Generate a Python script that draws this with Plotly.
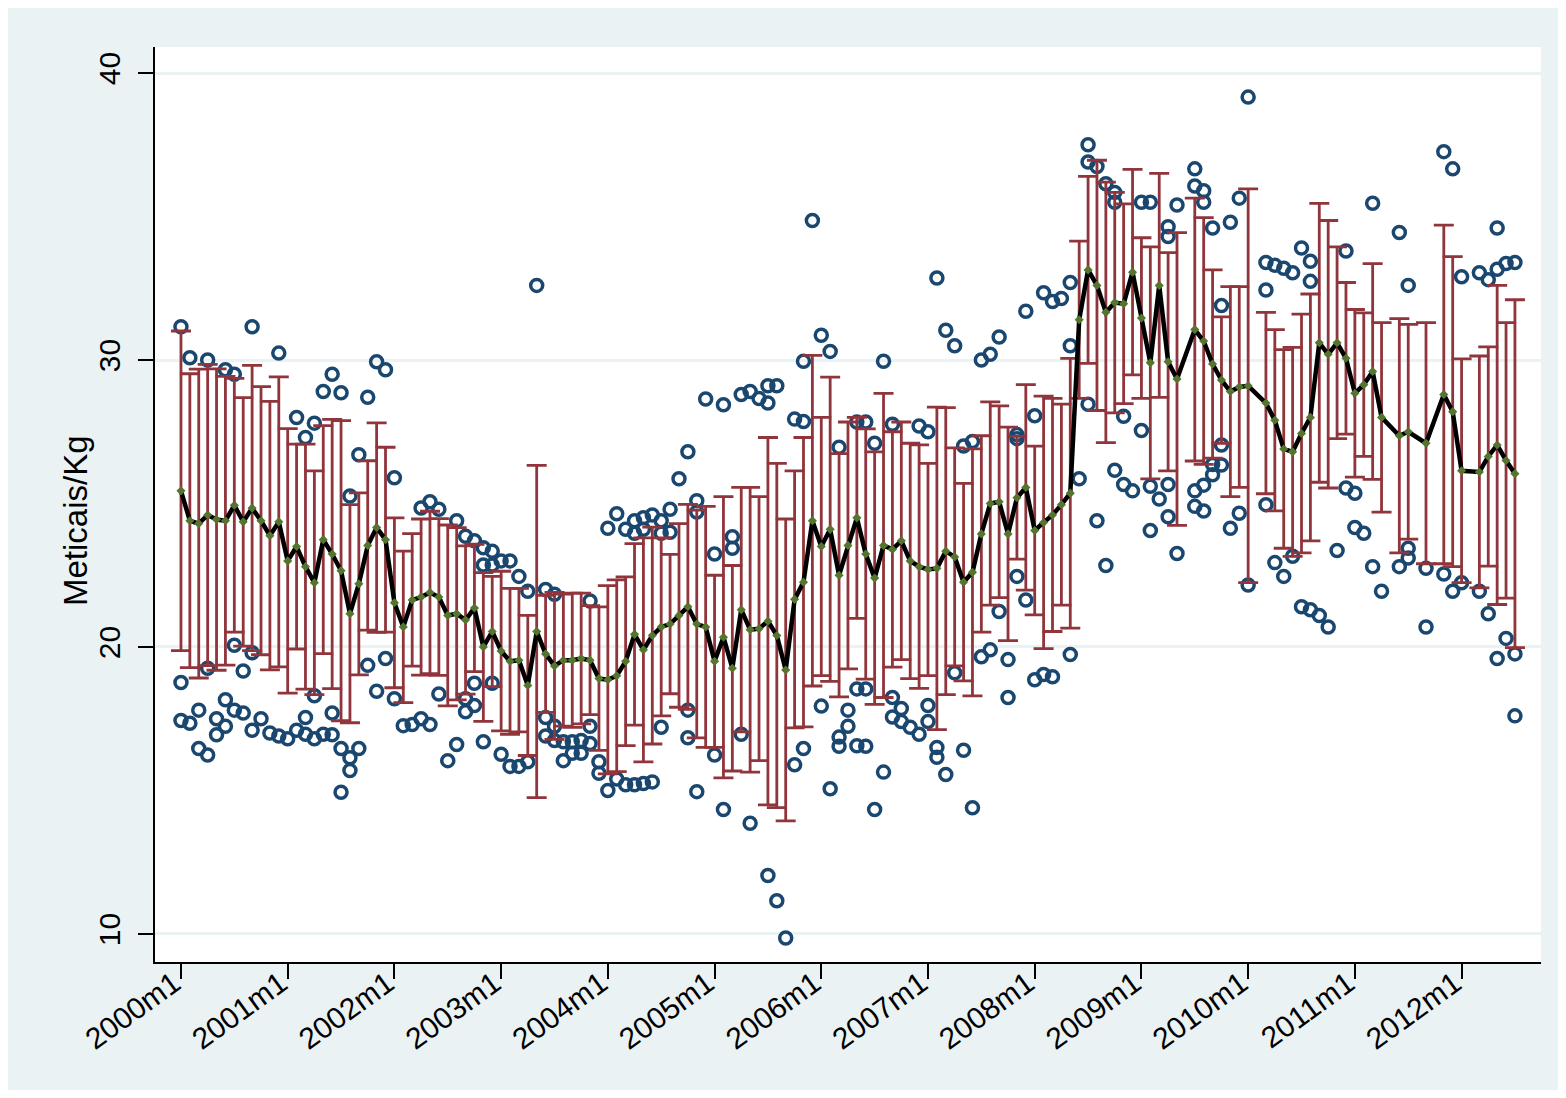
import plotly.graph_objects as go

# ---------------- data ----------------
start_year = 2000
n_months = 151  # 2000m1 .. 2012m7

mean_price = [
    25.44, 24.4, 24.3, 24.6, 24.44, 24.4, 24.94, 24.36, 24.84, 24.4, 23.88, 24.36,
    23.0, 23.5, 22.8, 22.24, 23.74, 23.24, 22.66, 21.16, 22.2, 23.54, 24.16, 23.74,
    21.54, 20.7, 21.64, 21.74, 21.9, 21.74, 21.1, 21.16, 20.94, 21.36, 20.0, 20.54,
    19.86, 19.5, 19.54, 18.66, 20.54, 19.76, 19.34, 19.54, 19.54, 19.6, 19.54, 18.9,
    18.86, 19.0, 19.5, 20.44, 19.9, 20.4, 20.7, 20.8, 21.1, 21.4, 20.8, 20.7,
    19.5, 20.34, 19.26, 21.3, 20.6, 20.64, 20.9, 20.4, 19.2, 21.66, 22.26, 24.4,
    23.5, 24.1, 22.5, 23.54, 24.5, 23.24, 22.4, 23.54, 23.4, 23.7, 23.0, 22.8,
    22.7, 22.74, 23.34, 23.14, 22.26, 22.6, 23.94, 25.0, 25.06, 23.94, 25.2, 25.56,
    24.06, 24.34, 24.6, 24.96, 25.36, 31.4, 33.14, 32.6, 31.66, 32.0, 31.96, 33.06,
    31.46, 29.9, 32.6, 29.94, 29.34, None, 31.06, 30.66, 29.86, 29.3, 28.9, 29.06,
    29.1, None, 28.5, 27.9, 26.9, 26.8, 27.44, 28.0, 30.6, 30.2, 30.6, 30.06,
    28.84, 29.14, 29.6, 28.0, None, 27.36, 27.5, None, 27.1, None, 28.8, 28.2,
    26.14, None, 26.1, 26.64, 27.04, 26.5, 26.04,
]

sd_price = [
    5.57, 5.12, 5.38, 5.25, 5.25, 5.03, 4.42, 4.33, 4.97, 4.67, 4.68, 5.05,
    4.61, 3.57, 4.27, 3.9, 3.97, 4.69, 5.23, 3.8, 3.17, 2.95, 3.65, 3.22,
    2.96, 2.64, 2.31, 2.72, 2.83, 2.73, 3.15, 3.0, 2.58, 2.22, 2.59, 1.92,
    2.78, 2.54, 2.5, 2.44, 5.79, 2.04, 2.56, 2.3, 2.34, 2.28, 1.9, 2.5,
    3.28, 3.34, 2.94, 3.16, 3.9, 3.78, 3.1, 2.43, 3.2, 3.57, 3.97, 4.2,
    3.0, 4.9, 3.58, 4.26, 4.96, 4.6, 6.4, 6.0, 5.26, 4.48, 5.04, 5.76,
    4.5, 5.3, 4.24, 4.3, 3.5, 4.36, 4.4, 5.3, 4.1, 4.14, 4.1, 4.24,
    3.7, 5.62, 5.0, 3.8, 3.44, 4.3, 3.42, 3.54, 3.34, 3.72, 2.14, 3.58,
    2.94, 4.4, 4.06, 3.5, 4.7, 2.74, 3.26, 4.36, 4.54, 3.84, 3.48, 3.58,
    2.8, 4.04, 3.9, 3.8, 5.1, None, 4.58, 4.3, 3.28, 2.2, 3.66, 3.5,
    6.86, None, 3.16, 3.16, 3.46, 3.64, 4.16, 4.3, 4.86, 4.66, 3.34, 2.64,
    2.92, 2.5, 3.76, 3.3, None, 4.08, 3.74, None, 4.2, None, 5.9, 5.4,
    3.9, None, 4.04, 3.82, 5.56, 4.8, 6.06,
]

# individual market observations: month index -> prices
market_obs = {
    0: [31.16, 18.76, 17.44], 1: [30.08, 17.34], 2: [17.8, 16.46], 3: [30.0, 16.24, 19.26],
    4: [17.5, 16.94], 5: [29.66, 18.16, 17.24], 6: [29.5, 20.06, 17.8], 7: [17.7, 19.16],
    8: [31.16, 19.8, 17.1], 9: [17.5], 10: [17.0], 11: [30.24, 16.9], 12: [16.8],
    13: [28.0, 17.1], 14: [27.3, 17.54, 16.96], 15: [27.8, 18.3, 16.8], 16: [28.9, 16.96],
    17: [29.5, 17.7, 16.94], 18: [28.86, 16.46, 14.94], 19: [25.26, 16.14, 15.7],
    20: [26.7, 16.46], 21: [28.7, 19.36], 22: [29.94, 18.46], 23: [29.66, 19.6],
    24: [25.9, 18.2], 25: [17.26], 26: [17.3], 27: [24.84, 17.5], 28: [25.06, 17.3],
    29: [24.8, 18.36], 30: [16.04], 31: [24.4, 16.6], 32: [23.86, 18.2, 17.74],
    33: [23.7, 18.74, 17.96], 34: [23.46, 22.86, 16.7], 35: [23.34, 22.86, 18.74],
    36: [23.0, 16.26], 37: [23.0, 15.84], 38: [22.46, 15.84], 39: [21.94, 16.0],
    40: [32.6], 41: [22.0, 17.54, 16.9], 42: [21.84, 17.24, 16.74], 43: [16.7, 16.04],
    44: [16.7, 16.3], 45: [16.74, 16.3], 46: [21.6, 17.24, 16.64], 47: [16.0, 15.6],
    48: [24.14, 15.0], 49: [24.64, 15.4], 50: [24.1, 15.2], 51: [24.4, 23.96, 15.2],
    52: [24.5, 24.1, 15.24], 53: [24.6, 15.3], 54: [24.4, 23.96, 17.2], 55: [24.8, 24.0],
    56: [25.86], 57: [26.8, 17.8, 16.84], 58: [25.1, 24.7, 14.96], 59: [28.64],
    60: [23.24, 16.24], 61: [28.44, 14.34], 62: [23.84, 23.44], 63: [28.8, 16.96],
    64: [28.9, 13.86], 65: [28.66], 66: [29.1, 28.5, 12.04], 67: [29.1, 11.16],
    68: [9.86], 69: [27.94, 15.9], 70: [29.96, 27.86, 16.46], 71: [34.86],
    72: [30.86, 17.94], 73: [30.3, 15.06], 74: [26.96, 16.86, 16.54], 75: [17.8, 17.24],
    76: [27.84, 18.54, 16.56], 77: [27.84, 18.54, 16.54], 78: [27.1, 14.34],
    79: [29.96, 15.64], 80: [27.76, 18.24, 17.56], 81: [17.86, 17.4], 82: [17.2],
    83: [27.7, 16.96], 84: [27.5, 17.96, 17.4], 85: [32.86, 16.5, 16.16],
    86: [31.04, 15.56], 87: [30.5, 19.1], 88: [27.0, 16.4], 89: [27.16, 14.4],
    90: [30.0, 19.66], 91: [30.2, 19.9], 92: [30.8, 21.24], 93: [19.56, 18.24],
    94: [27.4, 27.26, 22.46], 95: [31.7, 21.64], 96: [28.06, 18.86], 97: [32.34, 19.04],
    98: [32.04, 18.96], 99: [32.14], 100: [32.7, 30.5, 19.74], 101: [25.86],
    102: [37.5, 36.9, 28.46], 103: [36.74, 24.4], 104: [36.14, 22.84],
    105: [35.84, 35.5, 26.16], 106: [28.04, 25.66], 107: [25.44], 108: [35.5, 27.54],
    109: [35.5, 25.6, 24.06], 110: [25.16], 111: [34.64, 34.3, 25.66, 24.54],
    112: [35.4, 23.26], 114: [36.66, 36.06, 25.44, 24.9], 115: [35.9, 35.5, 25.64, 24.74],
    116: [34.6, 26.36, 26.0], 117: [31.9, 27.04, 26.34], 118: [34.8, 24.14],
    119: [35.64, 24.66], 120: [39.16, 22.16], 122: [33.4, 32.44, 24.96],
    123: [33.3, 22.94], 124: [33.2, 22.46], 125: [33.04, 23.16], 126: [33.9, 21.4],
    127: [33.44, 32.74, 21.3], 128: [21.1], 129: [20.7], 130: [23.36],
    131: [33.8, 25.54], 132: [25.36, 24.16], 133: [23.96], 134: [35.46, 22.8],
    135: [21.94], 137: [34.44, 22.8], 138: [32.6, 23.44, 23.1], 140: [22.74, 20.7],
    142: [37.26, 22.54], 143: [36.66, 21.94], 144: [32.9, 22.24], 146: [33.04, 21.94],
    147: [32.8, 21.16], 148: [34.6, 33.16, 19.6], 149: [33.36, 20.3],
    150: [33.4, 19.76, 17.6],
}

tick_months = list(range(0, 145, 12))
tick_labels = [f"{start_year + i}m1" for i in range(len(tick_months))]
y_ticks = [10, 20, 30, 40]

# ---------------- build ----------------
months = list(range(n_months))
obs_x = [m for m, vals in market_obs.items() for _ in vals]
obs_y = [v for m, vals in market_obs.items() for v in vals]

bar_x = [m for m in months if mean_price[m] is not None]
bar_y = [mean_price[m] for m in bar_x]
bar_e = [sd_price[m] for m in bar_x]

NAVY = "#1A476F"
MAROON = "#90353B"
GREEN = "#55752F"
BG = "#EAF2F3"
FONT = "Liberation Sans, Arial, Helvetica, sans-serif"

fig = go.Figure()

fig.add_trace(go.Scatter(
    x=obs_x, y=obs_y, mode="markers",
    marker=dict(symbol="circle-open", size=12, color=NAVY, line=dict(width=3.5, color=NAVY)),
    showlegend=False, hoverinfo="skip",
))

fig.add_trace(go.Scatter(
    x=bar_x, y=bar_y, mode="markers",
    marker=dict(size=1, color="rgba(0,0,0,0)"),
    error_y=dict(type="data", array=bar_e, symmetric=True, color=MAROON, thickness=2.8, width=10),
    showlegend=False, hoverinfo="skip",
))

fig.add_trace(go.Scatter(
    x=bar_x, y=bar_y, mode="lines+markers",
    line=dict(color="black", width=4.5),
    marker=dict(symbol="diamond", size=7, color=GREEN),
    showlegend=False,
))

# the page body adds an 8px margin; figure sized to fill the window
W, H = 1550, 1082
L, R, T, B = 147, 17, 39, 128
pw, ph = W - L - R, H - T - B

fig.add_annotation(text="Meticais/Kg", xref="paper", yref="paper",
                   x=(67 - L) / pw, y=(H - B - 513) / ph,
                   xanchor="center", yanchor="middle",
                   textangle=-90, showarrow=False,
                   font=dict(size=33, color="black", family=FONT))

fig.update_layout(
    width=W, height=H,
    margin=dict(l=L, r=R, t=T, b=B, pad=0),
    paper_bgcolor=BG, plot_bgcolor="white",
    font=dict(family=FONT, color="black", size=30),
    showlegend=False,
    xaxis=dict(
        range=[-2.92, 152.93], tickmode="array", tickvals=tick_months, ticktext=tick_labels,
        tickangle=-36, ticks="outside", ticklen=15, tickwidth=2, tickcolor="black",
        showline=True, linecolor="black", linewidth=2, showgrid=False, zeroline=False,
        tickfont=dict(size=30), ticklabelstandoff=-25, ticklabelshift=-7,
    ),
    yaxis=dict(
        range=[9.024, 40.906], tickmode="array", tickvals=y_ticks,
        tickangle=-90, ticks="outside", ticklen=15, tickwidth=2, tickcolor="black",
        showline=True, linecolor="black", linewidth=2, showgrid=True,
        gridcolor=BG, gridwidth=3, zeroline=False, tickfont=dict(size=30),
        ticklabelstandoff=6,
    ),
)

fig.write_html("out.html")
